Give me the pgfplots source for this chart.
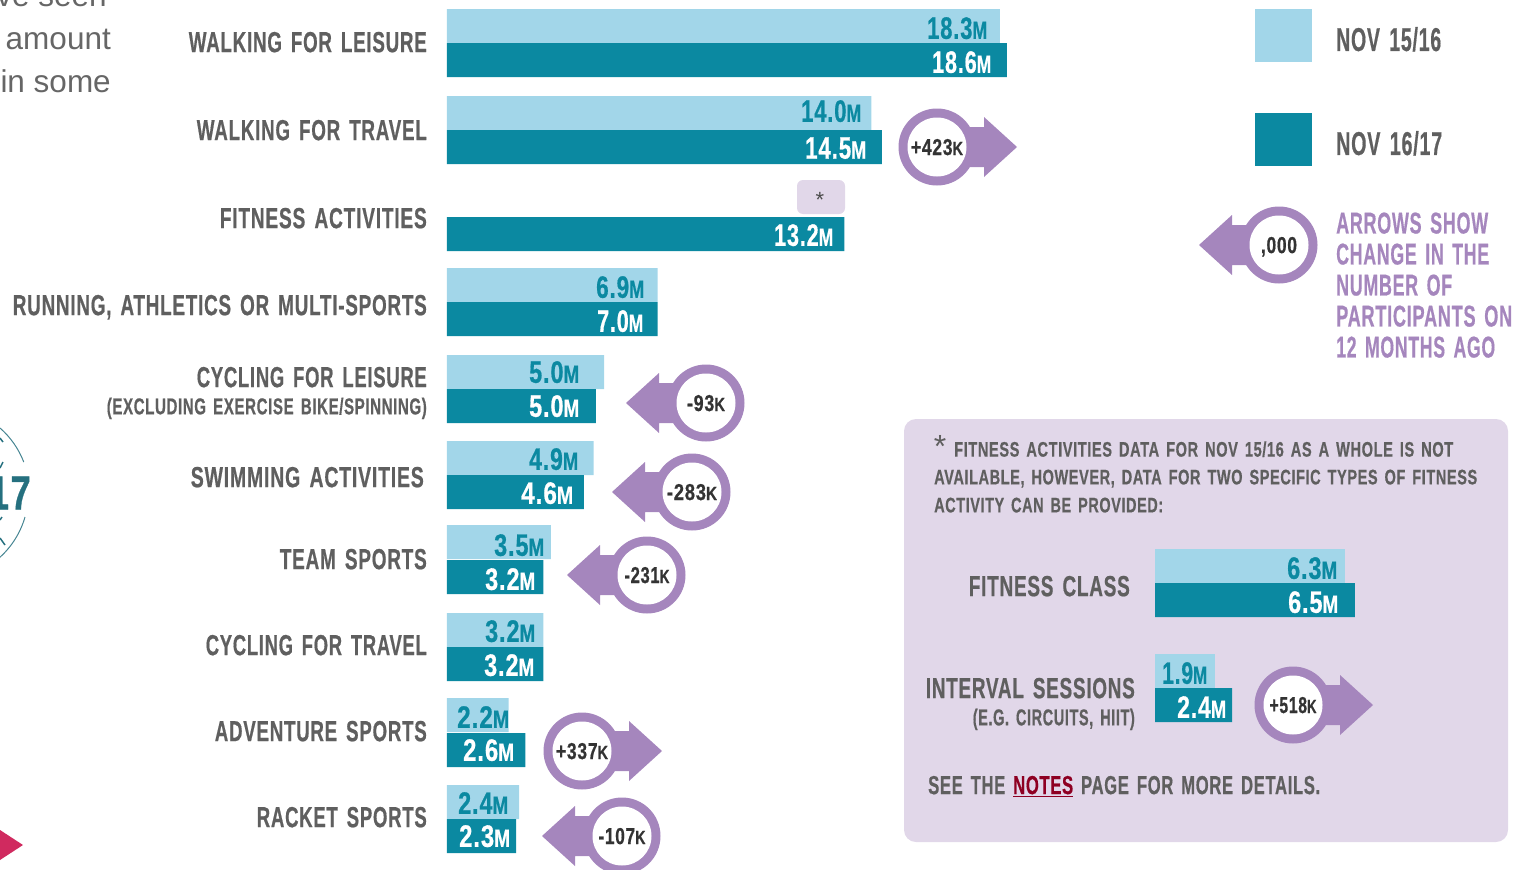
\documentclass[border=0pt]{standalone}
\usepackage{fontspec}
\setmainfont{Liberation Sans}
\newfontfamily\disp{Liberation Sans}[LetterSpace=4,WordSpace=1.5,BoldFeatures={FakeBold=0.7}]
\usepackage{graphicx}
\usepackage{pgfplots}
\usepackage{pgfplotstable}
\pgfplotsset{compat=1.18}

\definecolor{lightb}{HTML}{A2D6E9}
\definecolor{tealb}{HTML}{0B89A1}
\definecolor{purp}{HTML}{A586BD}
\definecolor{panel}{HTML}{E1D7E9}
\definecolor{gtext}{HTML}{5F5F5F}
\definecolor{notes}{HTML}{8E0022}
\definecolor{pink}{HTML}{D02A5F}
\definecolor{deept}{HTML}{25707F}

% ypos = bar centre in picture pixels, value = bar length in millions
\pgfplotstableread{
ypos value
26  18.37
113 14.10
285 7.00
372 5.22
458 4.87
542 3.45
630 3.20
715 2.05
802 2.40
}\lastyear
\pgfplotstableread{
ypos value
60  18.60
147 14.45
234 13.20
319 7.00
406 4.95
492 4.55
577 3.20
664 3.20
750 2.60
836 2.30
}\thisyear
\pgfplotstableread{
ypos value
566 6.31
671 1.99
}\insetlast
\pgfplotstableread{
ypos value
600 6.64
705 2.56
}\insetthis

% set text in a box of exact width, font size fixes the height
\newsavebox{\fitbox}
\newlength{\fitlen}
\DeclareRobustCommand{\fit}[3]{%
  \sbox{\fitbox}{\disp\fontsize{#2}{#2}\selectfont\bfseries #3}%
  \setlength{\fitlen}{\wd\fitbox}%
  \pgfmathsetmacro{\fitxs}{#1/\fitlen}%
  \raisebox{0pt}[\height][0pt]{\scalebox{\fitxs}[1]{\usebox{\fitbox}}}}
\newcommand{\T}[7]{\node[anchor=#1,inner sep=0pt,text=#6] at (#2,#3) {\fit{#4}{#5}{#7}};}
\newcommand{\V}[5]{\T{west}{#1}{#2}{#3}{31}{#4}{#5{\fontsize{25}{25}\selectfont M}}}
\newcommand{\bubble}[5]{%
  \begin{scope}[shift={(#1,#2)},xscale=#3]
    \fill[purp] (0,0) circle (38.5);
    \fill[purp] (30,-20) -- (47,-20) -- (47,-30) -- (80,0) -- (47,30) -- (47,20) -- (30,20) -- cycle;
    \fill[white] (0,0) circle (29.5);
  \end{scope}
  \T{center}{#1}{#2}{#4}{23}{black!80}{#5}}
\newcommand{\K}{{\fontsize{19}{19}\selectfont K}}

\pgfplotsset{barax/.style={
  scale only axis, height=870pt,
  ymin=0, ymax=870, y dir=reverse,
  xmin=0, enlargelimits=false,
  xtick=\empty,
  axis line style={draw=none},
  major tick length=0pt,
  tick label style={inner sep=0pt},
  yticklabel style={anchor=east},
  tick style={draw=none},
  clip=false,
}}

\begin{document}
\begin{tikzpicture}[x=1pt,y=-1pt]
  \useasboundingbox (0,0) rectangle (1526,870);
  \clip (0,0) rectangle (1526,870);

  % panel and asterisk box go under the bars
  \fill[panel,rounded corners=12pt] (904,419) rectangle (1508,842);
  \fill[panel,rounded corners=6pt] (797,180) rectangle (845,214);

  \begin{axis}[barax, at={(447pt,0pt)}, anchor=north west, width=1079pt, xmax=35.85,
    ytick={42,130,218,305,377,477,559,645,731,817},
    tick label style={text=gtext},
    yticklabel style={xshift=-20pt},
    yticklabels={
      {\fit{238}{29}{WALKING FOR LEISURE}},
      {\fit{230}{29}{WALKING FOR TRAVEL}},
      {\fit{207}{29}{FITNESS ACTIVITIES}},
      {\fit{414}{29}{RUNNING, ATHLETICS OR MULTI-SPORTS}},
      {\fit{230}{29}{CYCLING FOR LEISURE}},
      {\fit{233}{29}{SWIMMING ACTIVITIES}\hspace*{3pt}},
      {\fit{147}{29}{TEAM SPORTS}},
      {\fit{221}{29}{CYCLING FOR TRAVEL}},
      {\fit{212}{29}{ADVENTURE SPORTS}},
      {\fit{170}{29}{RACKET SPORTS}}}]
    \addplot[xbar, bar shift=0pt, bar width=34pt, draw=none, fill=lightb] table[x=value,y=ypos] {\lastyear};
    \addplot[xbar, bar shift=0pt, bar width=34pt, draw=none, fill=tealb] table[x=value,y=ypos] {\thisyear};
  \end{axis}

  \begin{axis}[barax, at={(1155pt,0pt)}, anchor=north west, width=371pt, xmax=12.326,
    ytick={586,688},
    tick label style={text=gtext},
    yticklabel style={xshift=-20pt},
    yticklabels={
      {\fit{161}{29}{FITNESS CLASS}\hspace*{5pt}},
      {\fit{209}{29}{INTERVAL SESSIONS}}}]
    \addplot[xbar, bar shift=0pt, bar width=34pt, draw=none, fill=lightb] table[x=value,y=ypos] {\insetlast};
    \addplot[xbar, bar shift=0pt, bar width=34pt, draw=none, fill=tealb] table[x=value,y=ypos] {\insetthis};
  \end{axis}

  % second lines of the category labels
  \T{east}{427}{406}{320}{23}{gtext}{(EXCLUDING EXERCISE BIKE/SPINNING)}
  \T{east}{1135}{717}{162}{23}{gtext}{(E.G. CIRCUITS, HIIT)}

  % bar values
  \V{927}{28}{60}{tealb}{18.3}
  \V{932}{62}{59}{white}{18.6}
  \V{801}{111}{60}{tealb}{14.0}
  \V{805}{148}{61}{white}{14.5}
  \V{774}{235}{59}{white}{13.2}
  \V{596}{287}{48}{tealb}{6.9}
  \V{597}{321}{46}{white}{7.0}
  \V{529}{372}{50}{tealb}{5.0}
  \V{529}{406}{50}{white}{5.0}
  \V{529}{459}{49}{tealb}{4.9}
  \V{521}{493}{52}{white}{4.6}
  \V{494}{545}{50}{tealb}{3.5}
  \V{485}{579}{50}{white}{3.2}
  \V{485}{631}{50}{tealb}{3.2}
  \V{484}{665}{50}{white}{3.2}
  \V{457}{717}{52}{tealb}{2.2}
  \V{463}{750}{51}{white}{2.6}
  \V{458}{803}{50}{tealb}{2.4}
  \V{459}{836}{51}{white}{2.3}
  \V{1287}{568}{50}{tealb}{6.3}
  \V{1288}{602}{50}{white}{6.5}
  \V{1162}{673}{45}{tealb}{1.9}
  \V{1177}{707}{49}{white}{2.4}

  % change arrows
  \bubble{937}{147}{1}{52}{+423\K}
  \bubble{706}{403}{-1}{38}{-93\K}
  \bubble{692}{492}{-1}{50}{-283\K}
  \bubble{647}{575}{-1}{45}{-231\K}
  \bubble{582}{751}{1}{52}{+337\K}
  \bubble{622}{836}{-1}{47}{-107\K}
  \bubble{1293}{705}{1}{47}{+518\K}
  \bubble{1279}{245}{-1}{36}{,000}

  % legend
  \fill[lightb] (1255,9) rectangle (1312,62);
  \fill[tealb] (1255,113) rectangle (1312,166);
  \T{west}{1336}{39}{105}{33}{gtext}{NOV 15/16}
  \T{west}{1336}{143}{106}{33}{gtext}{NOV 16/17}
  \T{west}{1336}{223}{152}{30}{purp}{ARROWS SHOW}
  \T{west}{1336}{254}{153}{30}{purp}{CHANGE IN THE}
  \T{west}{1336}{285}{116}{30}{purp}{NUMBER OF}
  \T{west}{1336}{316}{176}{30}{purp}{PARTICIPANTS ON}
  \T{west}{1336}{347}{159}{30}{purp}{12 MONTHS AGO}

  % panel text
  \node[inner sep=0pt,text=black!70] at (820,200) {\fontsize{22}{22}\selectfont *};
  \node[inner sep=0pt,text=gtext] at (940,446) {\fontsize{32}{32}\selectfont *};
  \T{west}{954}{449}{499}{21}{gtext}{FITNESS ACTIVITIES DATA FOR NOV 15/16 AS A WHOLE IS NOT}
  \T{west}{934}{477}{543}{21}{gtext}{AVAILABLE, HOWEVER, DATA FOR TWO SPECIFIC TYPES OF FITNESS}
  \T{west}{934}{505}{229}{21}{gtext}{ACTIVITY CAN BE PROVIDED:}
  \T{west}{928}{785}{392}{26}{gtext}{SEE THE \textcolor{notes}{\underline{NOTES}} PAGE FOR MORE DETAILS.}

  % clipped remains of the neighbouring page content
  \begin{scope}[text=black!60]
    \node[anchor=base east,inner sep=0pt] at (107,6) {\fontsize{31.5}{31.5}\selectfont ve seen};
    \node[anchor=base east,inner sep=0pt] at (111,49) {\fontsize{31.5}{31.5}\selectfont amount};
    \node[anchor=base east,inner sep=0pt] at (111,92) {\fontsize{31.5}{31.5}\selectfont in some};
  \end{scope}
  \T{east}{31}{493}{42}{48}{deept}{17}
  \draw[deept!85,line width=1pt] (0,428) arc[start angle=-48.8,end angle=-21,radius=86.5];
  \draw[deept!85,line width=1pt] (25,517) arc[start angle=16,end angle=48,radius=86.5];
  \draw[deept,line width=1.5pt] (0,438) -- (3,442) (0,468) -- (3,462) (0,520) -- (2,517) (0,538) -- (5,545);
  \fill[pink] (0,830) -- (23,845) -- (0,860) -- cycle;
\end{tikzpicture}
\end{document}
